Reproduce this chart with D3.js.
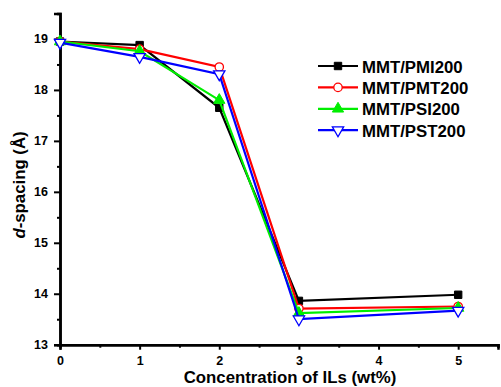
<!DOCTYPE html>
<html><head><meta charset="utf-8">
<script src="https://cdn.jsdelivr.net/npm/d3@7"></script>
<style>body{margin:0;background:#fff}svg{display:block}</style>
</head><body>
<script>
const xValues = [0, 1, 2, 3, 5];
const seriesNames = ["MMT/PMI200", "MMT/PMT200", "MMT/PSI200", "MMT/PST200"];
const seriesColors = ["#000000", "#ff0000", "#00ee00", "#0000ff"];
const seriesMarkers = ["square", "circle", "triangleUp", "triangleDown"];
const pmi200 = [18.95, 18.88, 17.65, 13.86, 13.98];
const pmt200 = [18.95, 18.80, 18.45, 13.71, 13.75];
const psi200 = [18.95, 18.76, 17.80, 13.62, 13.72];
const pst200 = [18.93, 18.65, 18.31, 13.50, 13.67];
const seriesValues = [pmi200, pmt200, psi200, pst200];
const xTicks = [0, 1, 2, 3, 4, 5];
const yTicks = [13, 14, 15, 16, 17, 18, 19];

const W = 501, H = 387;
const svg = d3.select("body").append("svg").attr("width", W).attr("height", H);
const x = d3.scaleLinear().domain([0, 5.5]).range([60, 498]);
const y = d3.scaleLinear().domain([13, 19.5]).range([344.7, 13.5]);
const font = "Arial, 'Liberation Sans', sans-serif";

// axes
const xAxis = d3.axisBottom(x).tickValues(xTicks).tickFormat(d3.format("d")).tickSize(5).tickPadding(6);
const xMinor = d3.axisBottom(x).tickValues([0.5,1.5,2.5,3.5,4.5,5.5]).tickFormat("").tickSize(3);
const yAxis = d3.axisLeft(y).tickValues(yTicks).tickFormat(d3.format("d")).tickSize(6).tickPadding(6);
const yMinor = d3.axisLeft(y).tickValues([13.5,14.5,15.5,16.5,17.5,18.5,19.5]).tickFormat("").tickSize(3);

function style(g){
  g.select(".domain").attr("stroke","#000").attr("stroke-width",2.5);
  g.selectAll(".tick line").attr("stroke","#000").attr("stroke-width",2);
  g.selectAll(".tick text").attr("fill","#000").style("font-family",font).style("font-weight","bold").style("font-size","12.5px");
}
svg.append("g").attr("transform","translate(0,344.7)").call(xMinor).call(style);
svg.append("g").attr("transform","translate(0,344.7)").call(xAxis).call(style);
svg.append("g").attr("transform","translate(60,0)").call(yMinor).call(style);
svg.append("g").attr("transform","translate(60,0)").call(yAxis).call(style);

// lines
const line = d3.line().x((d,i)=>x(xValues[i])).y(d=>y(d));
const symbolTypes = {square: d3.symbolSquare, circle: d3.symbolCircle, triangleUp: d3.symbolTriangle};
function marker(g, type, color, cx, cy){
  if(type==="triangleDown"){
    g.append("path").attr("d", d3.symbol(d3.symbolTriangle, 55)())
      .attr("transform",`translate(${cx},${cy}) rotate(180)`)
      .attr("fill","#fff").attr("stroke",color).attr("stroke-width",1.3);
  } else if(type==="circle"){
    g.append("path").attr("d", d3.symbol(d3.symbolCircle, 55)())
      .attr("transform",`translate(${cx},${cy})`)
      .attr("fill","#fff").attr("stroke",color).attr("stroke-width",1.3);
  } else {
    g.append("path").attr("d", d3.symbol(symbolTypes[type], 55)())
      .attr("transform",`translate(${cx},${cy})`)
      .attr("fill",color).attr("stroke",color).attr("stroke-width",1);
  }
}
seriesValues.forEach((vals, s)=>{
  const g = svg.append("g");
  g.append("path").attr("d", line(vals)).attr("fill","none").attr("stroke",seriesColors[s]).attr("stroke-width",2.2);
  vals.forEach((v,i)=> marker(g, seriesMarkers[s], seriesColors[s], x(xValues[i]), y(v)));
});

// legend
const leg = svg.append("g");
seriesNames.forEach((n,s)=>{
  const yy = 66 + s*21.4;
  leg.append("line").attr("x1",318).attr("x2",358).attr("y1",yy).attr("y2",yy).attr("stroke",seriesColors[s]).attr("stroke-width",2.2);
  marker(leg, seriesMarkers[s], seriesColors[s], 338, yy);
  leg.append("text").attr("x",362).attr("y",yy+6.5).text(n)
    .style("font-family",font).style("font-weight","bold").style("font-size","16.8px").attr("fill","#000");
});

// axis labels
svg.append("text").attr("x",290).attr("y",382.5).attr("text-anchor","middle")
  .style("font-family",font).style("font-weight","bold").style("font-size","16.8px")
  .text("Concentration of ILs (wt%)");
const yl = svg.append("text").attr("transform","translate(25,185) rotate(-90)").attr("text-anchor","middle")
  .style("font-family",font).style("font-weight","bold").style("font-size","16.8px");
yl.append("tspan").style("font-style","italic").text("d");
yl.append("tspan").text("-spacing (Å)");
</script>
</body></html>
